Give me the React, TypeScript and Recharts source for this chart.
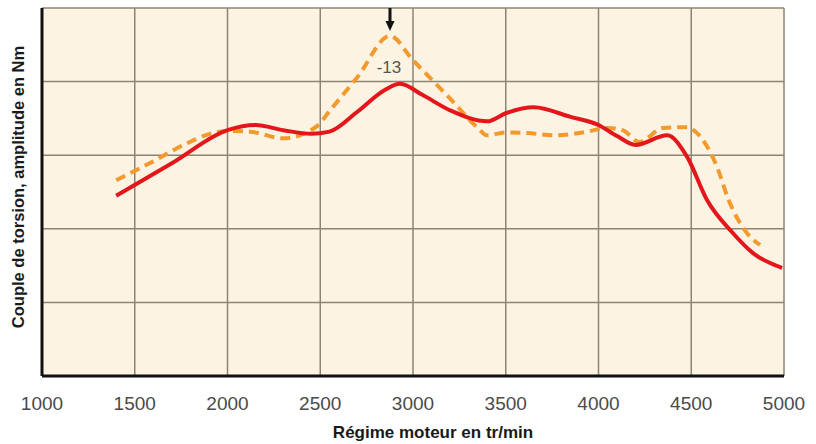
import {
  CartesianGrid,
  LineChart,
  Line,
  ReferenceDot,
  XAxis,
  YAxis,
} from "recharts";

// régime moteur (tr/min) et amplitude (Nm, échelle relative)
const rpmSolid = [1400, 1700, 2000, 2150, 2300, 2450, 2550, 2700, 2850, 2930, 3050, 3200, 3400, 3500, 3650, 3850, 4000, 4100, 4200, 4370, 4477, 4585, 4725, 4833, 4990];
const torqueSolid = [2.45, 2.89, 3.34, 3.41, 3.34, 3.29, 3.32, 3.59, 3.89, 3.97, 3.82, 3.61, 3.46, 3.57, 3.65, 3.52, 3.41, 3.26, 3.14, 3.27, 2.98, 2.39, 1.94, 1.67, 1.47];

const rpmDashed = [1400, 1580, 1780, 1920, 2000, 2120, 2300, 2480, 2550, 2700, 2876, 3000, 3200, 3350, 3400, 3500, 3620, 3760, 3920, 4050, 4130, 4220, 4348, 4477, 4531, 4639, 4700, 4801, 4871];
const torqueDashed = [2.66, 2.89, 3.16, 3.3, 3.33, 3.32, 3.23, 3.39, 3.6, 4.06, 4.62, 4.29, 3.77, 3.37, 3.27, 3.31, 3.3, 3.27, 3.31, 3.37, 3.34, 3.18, 3.37, 3.38, 3.3, 2.84, 2.4, 1.94, 1.78];

const xTicks = [1000, 1500, 2000, 2500, 3000, 3500, 4000, 4500, 5000];
const yTicks = [0, 1, 2, 3, 4];

const peakRpm = 2876;
const peakValue = 4.62;
const peakLabel = "-13";

const solidRows = rpmSolid.map((x, i) => ({ x, y: torqueSolid[i] }));
const dashedRows = rpmDashed.map((x, i) => ({ x, y: torqueDashed[i] }));

const FONT = "Liberation Sans, Arial, sans-serif";

const PeakMark = (props: any) => {
  const { cx, cy } = props;
  if (cx == null || cy == null) return null;
  return (
    <g>
      <line x1={cx} y1={cy - 28} x2={cx} y2={cy - 13} stroke="#111" strokeWidth={3} />
      <polygon points={`${cx - 4.5},${cy - 15} ${cx + 4.5},${cy - 15} ${cx},${cy - 5}`} fill="#111" />
      <text x={cx - 1} y={cy + 32} textAnchor="middle" dominantBaseline="central" fontSize={17} fill="#555" fontFamily={FONT}>
        {peakLabel}
      </text>
    </g>
  );
};

const YTitle = (props: any) => {
  const vb = props.viewBox || {};
  const cx = 17.5;
  const cy = (vb.y ?? 8) + (vb.height ?? 368) / 2 - 5;
  return (
    <text
      x={cx}
      y={cy}
      transform={`rotate(-90 ${cx} ${cy})`}
      textAnchor="middle"
      dominantBaseline="central"
      fontSize={16.5}
      fontWeight="bold"
      fill="#1a1a1a"
      fontFamily={FONT}
    >
      Couple de torsion, amplitude en Nm
    </text>
  );
};

const NoTick = () => <g />;

export default function App() {
  return (
    <div style={{ position: "absolute", left: 0, top: 0, width: 816, height: 444, background: "#fff" }}>
      <LineChart width={816} height={444} margin={{ top: 8, right: 32, left: 41, bottom: 4 }}>
        <CartesianGrid fill="#FDF3E2" stroke="#8c8476" strokeWidth={1.5} />
        <XAxis
          dataKey="x"
          type="number"
          domain={[1000, 5000]}
          ticks={xTicks}
          allowDataOverflow
          height={64}
          tickLine={false}
          tickSize={0}
          tickMargin={21}
          axisLine={{ stroke: "#111", strokeWidth: 3 }}
          tick={{ fontSize: 19, fill: "#4a4a4a", fontFamily: FONT }}
          label={{
            value: "Régime moteur en tr/min",
            position: "insideBottom",
            offset: 2,
            dx: 20,
            style: { fontSize: 17, fontWeight: "bold", fill: "#1a1a1a", fontFamily: FONT },
          }}
        />
        <YAxis
          type="number"
          domain={[0, 5]}
          ticks={yTicks}
          width={1}
          tick={NoTick}
          tickLine={false}
          axisLine={{ stroke: "#111", strokeWidth: 3 }}
          label={{ content: YTitle }}
        />
        <Line
          data={dashedRows}
          dataKey="y"
          type="monotone"
          stroke="#F29A2E"
          strokeWidth={4}
          strokeDasharray="10 6"
          dot={false}
          isAnimationActive={false}
        />
        <Line
          data={solidRows}
          dataKey="y"
          type="monotone"
          stroke="#E3161B"
          strokeWidth={4}
          dot={false}
          isAnimationActive={false}
        />
        <ReferenceDot x={peakRpm} y={peakValue} r={0} shape={PeakMark} ifOverflow="visible" />
      </LineChart>
    </div>
  );
}
